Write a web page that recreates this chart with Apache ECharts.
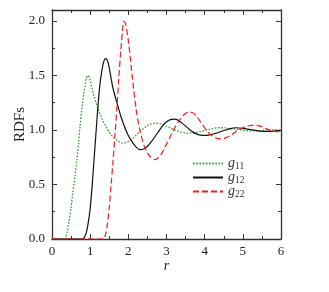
<!DOCTYPE html>
<html>
<head>
<meta charset="utf-8">
<script src="https://cdn.jsdelivr.net/npm/echarts@6/dist/echarts.min.js"></script>
<style>html,body{margin:0;padding:0;background:#fff;}#c{width:329px;height:292px;}</style>
</head>
<body>
<div id="c"></div>
<script>
// g11 (green dotted)
const g11_r = [0,0.3,0.34,0.4,0.45,0.5,0.54,0.6,0.65,0.7,0.73,0.8,0.84,0.9,0.935,0.97,1.0,1.05,1.1,1.2,1.3,1.4,1.5,1.6,1.7,1.8,1.85,1.9,2.0,2.1,2.2,2.3,2.4,2.5,2.6,2.7,2.8,2.9,3.0,3.1,3.2,3.3,3.4,3.5,3.6,3.7,3.8,3.9,4.0,4.1,4.2,4.3,4.4,4.5,4.6,4.8,5.0,5.2,5.4,5.6,5.8,6.0];
const g11_v = [0,0,0,0.07,0.17,0.29,0.41,0.57,0.72,0.89,1.02,1.25,1.35,1.47,1.5,1.49,1.45,1.38,1.31,1.2,1.11,1.04,0.98,0.935,0.905,0.885,0.88,0.882,0.895,0.92,0.95,0.985,1.015,1.04,1.055,1.062,1.06,1.05,1.035,1.02,1.0,0.99,0.98,0.972,0.97,0.97,0.975,0.985,0.995,1.005,1.012,1.018,1.02,1.02,1.017,1.007,0.997,0.992,0.993,0.998,1.0,1.0];
// g12 (black solid)
const g12_r = [0,0.8,0.84,0.9,0.95,1.0,1.05,1.1,1.15,1.2,1.25,1.3,1.35,1.4,1.45,1.5,1.56,1.6,1.7,1.8,1.9,2.0,2.1,2.2,2.3,2.4,2.5,2.6,2.7,2.8,2.9,3.0,3.1,3.2,3.3,3.4,3.5,3.6,3.7,3.8,3.9,4.0,4.1,4.3,4.5,4.7,4.8,5.0,5.2,5.4,5.6,5.8,6.0];
const g12_v = [0,0,0.01,0.06,0.15,0.28,0.48,0.72,0.96,1.2,1.4,1.53,1.62,1.655,1.64,1.57,1.45,1.38,1.25,1.13,1.03,0.95,0.89,0.845,0.82,0.825,0.85,0.89,0.94,0.99,1.04,1.075,1.095,1.1,1.09,1.065,1.035,1.005,0.98,0.962,0.952,0.95,0.953,0.97,0.995,1.015,1.02,1.015,1.003,0.992,0.987,0.99,0.995];
// g22 (red dashed)
const g22_r = [0,1.35,1.4,1.45,1.5,1.55,1.6,1.65,1.7,1.75,1.8,1.85,1.88,1.92,2.0,2.1,2.2,2.3,2.4,2.5,2.6,2.7,2.8,2.9,3.0,3.1,3.2,3.3,3.4,3.5,3.6,3.7,3.8,3.9,4.0,4.1,4.2,4.3,4.4,4.5,4.6,4.7,4.8,4.9,5.0,5.1,5.2,5.3,5.4,5.5,5.6,5.7,5.8,5.9,6.0];
const g22_v = [0,0,0.04,0.13,0.29,0.5,0.72,0.95,1.2,1.47,1.72,1.92,1.995,1.98,1.82,1.5,1.2,1.0,0.87,0.79,0.745,0.728,0.75,0.8,0.87,0.94,1.01,1.07,1.12,1.15,1.165,1.155,1.12,1.07,1.02,0.975,0.945,0.925,0.918,0.92,0.935,0.955,0.98,1.0,1.02,1.035,1.04,1.045,1.04,1.03,1.015,1.0,0.99,0.985,0.985];
const xTicks = [0,1,2,3,4,5,6];
const yTicks = [0.0,0.5,1.0,1.5,2.0];

function pairs(r, v){ return r.map((x,i)=>[x, v[i]]); }

const axisColor = '#333';
const font = '"Liberation Serif", "DejaVu Serif", serif';
const chart = echarts.init(document.getElementById('c'), null, {renderer:'canvas'});
const lineAxis = {show:true, onZero:false, lineStyle:{color:axisColor, width:1.3}};
const tickCommon = {show:true, inside:true, length:5, lineStyle:{color:axisColor, width:1}};
const minorCommon = {show:true, splitNumber:2, length:3, lineStyle:{color:axisColor, width:1}};

chart.setOption({
  animation:false,
  backgroundColor:'#fff',
  grid:{left:52, right:48, top:10, bottom:53, containLabel:false},
  legend:{
    orient:'vertical', left:187, top:151, itemWidth:30, itemHeight:10, itemGap:-1,
    itemStyle:{color:'transparent', borderWidth:0, opacity:0},
    textStyle:{fontFamily:font, color:'#333', fontSize:13, lineHeight:12,
      rich:{g:{fontFamily:font, fontStyle:'italic', fontSize:14, color:'#333', lineHeight:12},
            s:{fontFamily:font, fontSize:9.5, color:'#333', lineHeight:12, padding:[5,0,0,0]}}},
    formatter: function(n){ return '{g|g}{s|' + n.slice(1) + '}'; },
    data:['g11','g12','g22']
  },
  xAxis:[
    {type:'value', min:0, max:6, interval:1, position:'bottom',
     axisLine:lineAxis, axisTick:tickCommon, minorTick:minorCommon, splitLine:{show:false},
     axisLabel:{color:'#222', fontFamily:font, fontSize:13, margin:6,
       formatter: v => String(v)},
     name:'r', nameLocation:'middle', nameGap:20, nameMoveOverlap:false,
     nameTextStyle:{fontFamily:font, fontStyle:'italic', fontSize:14, color:'#222'}},
    {type:'value', min:0, max:6, interval:1, position:'top',
     axisLine:lineAxis, axisTick:tickCommon, minorTick:minorCommon, splitLine:{show:false},
     axisLabel:{show:false}}
  ],
  yAxis:[
    {type:'value', min:0, max:2.1, interval:0.5, position:'left',
     axisLine:lineAxis, axisTick:tickCommon, minorTick:minorCommon, splitLine:{show:false},
     axisLabel:{color:'#222', fontFamily:font, fontSize:13, margin:7, showMaxLabel:false,
       formatter: v => (yTicks.some(t=>Math.abs(t-v)<1e-6) ? v.toFixed(1) : '')},
     name:'RDFs', nameLocation:'middle', nameGap:24, nameRotate:90, nameMoveOverlap:false,
     nameTextStyle:{fontFamily:font, fontSize:15, color:'#222'}},
    {type:'value', min:0, max:2.1, interval:0.5, position:'right',
     axisLine:lineAxis, axisTick:tickCommon, minorTick:minorCommon, splitLine:{show:false},
     axisLabel:{show:false}}
  ],
  series:[
    {name:'g11', type:'line', data:pairs(g11_r,g11_v), smooth:0.3, showSymbol:false, symbol:'none', z:3,
     lineStyle:{color:'#2e9e2e', width:1.3, type:[1.6,1.6]}, itemStyle:{color:'#2e9e2e'}},
    {name:'g12', type:'line', data:pairs(g12_r,g12_v), smooth:0.3, showSymbol:false, symbol:'none', z:4,
     lineStyle:{color:'#111', width:1.2, type:'solid'}, itemStyle:{color:'#111'}},
    {name:'g22', type:'line', data:pairs(g22_r,g22_v), smooth:0.3, showSymbol:false, symbol:'none', z:5,
     lineStyle:{color:'#ff1a1a', width:1.2, type:[6,3]}, itemStyle:{color:'#ff1a1a'}}
  ]
});
</script>
</body>
</html>
